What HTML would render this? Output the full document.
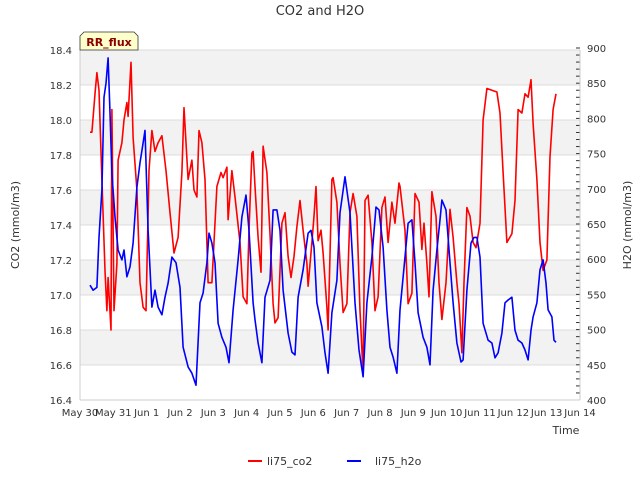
<!DOCTYPE html>
<html><head><meta charset="utf-8"><style>
body{margin:0;background:#fff;}
svg{display:block;font-family:"DejaVu Sans","Liberation Sans",sans-serif;}
</style></head><body>
<svg id="chart" width="640" height="480" viewBox="0 0 640 480" xmlns="http://www.w3.org/2000/svg">
<text x="320" y="15" text-anchor="middle" font-size="13" fill="#333">CO2 and H2O</text>
<g id="bands"></g>
<g id="grid"></g>
<g id="series"></g>
<g id="axes"></g>
<text transform="translate(19,225) rotate(-90)" text-anchor="middle" font-size="11" fill="#333">CO2 (mmol/m3)</text>
<text transform="translate(631,225) rotate(-90)" text-anchor="middle" font-size="11" fill="#333">H2O (mmol/m3)</text>
<text x="566" y="434" text-anchor="middle" font-size="11" fill="#333">Time</text>
<g>
<path d="M84,32 L134,32 L138,36 L138,50 L80,50 L80,36 Z" fill="#ffffcc" stroke="#333" stroke-width="0.8"/>
<text x="109" y="46" text-anchor="middle" font-size="11" font-weight="bold" fill="#8b0000">RR_flux</text>
</g>
<g>
<line x1="248" y1="461" x2="262" y2="461" stroke="#ff0000" stroke-width="2"/>
<text x="267" y="465" font-size="11" fill="#333">li75_co2</text>
<line x1="347" y1="461" x2="361" y2="461" stroke="#0000ff" stroke-width="2"/>
<text x="375" y="465" font-size="11" fill="#333">li75_h2o</text>
</g>
</svg>
<script>
const xTickLabels = ["May 30","May 31","Jun 1","Jun 2","Jun 3","Jun 4","Jun 5","Jun 6","Jun 7","Jun 8","Jun 9","Jun 10","Jun 11","Jun 12","Jun 13","Jun 14"];
const leftTicks = [16.4,16.6,16.8,17.0,17.2,17.4,17.6,17.8,18.0,18.2,18.4];
const rightTicks = [400,450,500,550,600,650,700,750,800,850,900];
const co2Hours = [7.2,8.6,10.8,12.2,13.7,15.8,18.0,19.4,20.2,22.3,23.0,24.5,26.6,27.4,30.2,31.7,33.8,34.6,36.7,38.2,41.0,43.2,45.4,47.5,49.7,51.8,54.0,56.2,59.0,61.9,64.8,67.7,70.6,73.4,74.9,76.3,77.8,80.6,82.1,84.2,85.7,87.8,90.0,92.2,95.0,98.6,101.5,103.0,105.8,106.6,109.4,111.6,115.2,117.4,120.2,121.7,123.8,124.6,126.0,128.2,130.3,131.8,134.6,136.8,139.0,140.4,142.6,145.4,147.6,149.8,151.9,154.1,156.2,158.4,160.6,163.4,164.2,167.0,168.5,169.9,171.4,173.5,175.0,177.8,178.6,181.4,182.2,185.0,187.2,189.4,192.2,194.4,196.6,199.4,201.6,203.8,205.2,207.4,210.2,212.4,214.6,217.4,219.6,221.8,224.6,226.8,229.7,230.4,234.0,236.2,239.0,241.2,244.1,246.2,247.7,249.8,251.3,253.4,256.3,258.5,260.6,263.5,266.4,268.6,271.4,272.9,275.0,276.5,278.6,280.8,283.0,285.1,288.0,290.2,293.0,296.6,300.2,302.4,304.6,307.4,311.0,313.2,315.4,318.2,320.4,322.6,324.7,326.2,329.0,331.2,333.4,336.2,338.4,340.6,342.7];
const co2Values = [17.93,17.93,18.15,18.27,18.17,17.66,17.14,16.91,17.10,16.80,18.06,16.91,17.18,17.77,17.87,18.00,18.10,18.02,18.33,17.90,17.60,17.07,16.93,16.91,17.71,17.94,17.82,17.87,17.91,17.71,17.47,17.24,17.33,17.70,18.07,17.87,17.66,17.77,17.60,17.56,17.94,17.87,17.66,17.07,17.07,17.62,17.70,17.67,17.73,17.43,17.71,17.56,17.30,16.99,16.95,17.37,17.81,17.82,17.62,17.33,17.13,17.85,17.70,17.35,16.95,16.84,16.87,17.41,17.47,17.22,17.10,17.22,17.39,17.54,17.37,17.18,17.05,17.30,17.45,17.62,17.31,17.37,17.24,16.93,16.80,17.66,17.67,17.53,17.18,16.90,16.95,17.47,17.58,17.45,16.91,16.55,17.54,17.57,17.30,16.91,16.99,17.50,17.56,17.30,17.53,17.41,17.64,17.62,17.37,16.95,17.01,17.58,17.53,17.26,17.41,17.18,16.99,17.59,17.45,17.07,16.86,17.07,17.49,17.33,17.07,16.95,16.67,17.07,17.50,17.45,17.30,17.27,17.41,18.00,18.18,18.17,18.16,18.04,17.70,17.30,17.35,17.54,18.06,18.04,18.15,18.13,18.23,17.98,17.66,17.30,17.14,17.20,17.79,18.06,18.15];
const h2oHours = [7.2,9.4,12.2,13.7,15.8,17.3,18.7,20.2,21.6,23.0,25.2,27.4,30.2,31.7,33.8,36.0,38.2,41.0,43.2,45.4,46.8,49.0,51.8,54.0,56.2,59.0,61.2,63.4,66.2,69.1,72.0,74.2,77.8,80.6,83.5,86.4,88.6,91.4,92.9,95.0,97.2,99.4,102.2,105.1,107.3,110.2,113.8,116.6,119.5,121.7,124.6,126.0,128.2,131.0,133.2,136.8,139.0,141.8,144.0,146.2,149.8,152.6,154.8,157.0,160.6,164.2,166.3,168.5,170.6,174.2,176.4,178.6,181.4,185.0,187.2,190.8,194.4,198.0,200.9,203.8,206.6,210.2,213.1,215.3,218.2,221.0,223.2,225.4,228.2,230.4,234.0,236.2,239.0,241.2,243.4,247.0,249.8,252.0,254.2,257.0,259.2,260.6,263.5,266.4,268.6,271.4,274.3,275.8,278.6,281.5,283.7,285.8,288.0,290.2,293.8,296.6,298.8,301.0,303.8,306.0,308.2,311.0,313.2,315.4,318.2,320.4,322.6,324.7,326.2,329.0,331.2,333.4,335.5,337.0,339.8,341.3,342.7];
const h2oValues = [563,556,560,631,698,830,850,886,808,722,660,613,599,613,575,589,623,702,737,765,783,641,532,556,532,521,546,566,603,595,560,475,447,438,421,538,552,595,637,623,595,509,489,475,453,528,599,660,691,641,538,514,481,453,546,570,670,670,641,556,495,468,464,546,585,637,641,617,538,504,467,438,524,570,666,717,666,538,471,433,538,603,674,670,617,528,475,461,438,528,603,651,656,595,524,489,475,450,556,613,656,684,670,595,538,481,454,457,556,623,631,631,603,509,485,481,460,467,495,538,542,546,499,485,481,471,457,499,518,538,585,599,566,528,518,485,482];

const NS="http://www.w3.org/2000/svg";
const L=80,R=580,T=50,B=400;
function xScale(h){return L+(h/24)*(R-L)/15;}
function yLeft(v){return B-(v-16.4)/2.0*(B-T);}
function yRight(v){return B-(v-400)/500*(B-48);}
function mk(tag,attrs,parent){const e=document.createElementNS(NS,tag);for(const k in attrs)e.setAttribute(k,attrs[k]);parent.appendChild(e);return e;}
const bands=document.getElementById('bands'),grid=document.getElementById('grid'),series=document.getElementById('series'),axes=document.getElementById('axes');
for(let i=0;i<leftTicks.length-1;i++){
  if(i%2===1){
    const r=mk('rect',{x:L,y:yLeft(leftTicks[i+1]),width:R-L,height:yLeft(leftTicks[i])-yLeft(leftTicks[i+1]),fill:'#f2f2f2'},bands);
    
    
  }
}
leftTicks.forEach(v=>{
  const y=yLeft(v);
  const g=mk('line',{x1:L,x2:R,y1:y,y2:y,stroke:'#dcdcdc','stroke-width':1},grid);
  
  
  const t=mk('text',{x:L-8,y:y+4,'text-anchor':'end','font-size':10,fill:'#333'},axes);
  
  
  t.textContent=v.toFixed(1);
});
rightTicks.forEach(v=>{
  const y=yRight(v);
  const t=mk('text',{x:R+7,y:y+4,'font-size':10,fill:'#333'},axes);
  
  
  t.textContent=String(v);
});
for(let v=400;v<=900;v+=10){
  const y=yRight(v);
  const m=mk('line',{x1:R-4,x2:R,y1:y,y2:y,stroke:'#333','stroke-width':1},axes);
  
  
}
xTickLabels.forEach((lab,i)=>{
  const x=xScale(i*24);
  const t=mk('text',{x:x,y:416,'text-anchor':'middle','font-size':10,fill:'#333'},axes);
  
  
  t.textContent=lab;
});
const ax1=mk('line',{x1:L,x2:L,y1:T,y2:B,stroke:'#ccc'},axes);


const ax2=mk('line',{x1:R,x2:R,y1:T,y2:B,stroke:'#ccc'},axes);


const ax3=mk('line',{x1:L,x2:R,y1:B,y2:B,stroke:'#ccc'},axes);


const co2Line=mk('polyline',{points:co2Hours.map((h,i)=>xScale(h).toFixed(1)+','+yLeft(co2Values[i]).toFixed(1)).join(' '),fill:'none',stroke:'#ff0000','stroke-width':1.6,'stroke-linejoin':'round'},series);


const h2oLine=mk('polyline',{points:h2oHours.map((h,i)=>xScale(h).toFixed(1)+','+yRight(h2oValues[i]).toFixed(1)).join(' '),fill:'none',stroke:'#0000ff','stroke-width':1.6,'stroke-linejoin':'round'},series);


</script>
</body></html>
